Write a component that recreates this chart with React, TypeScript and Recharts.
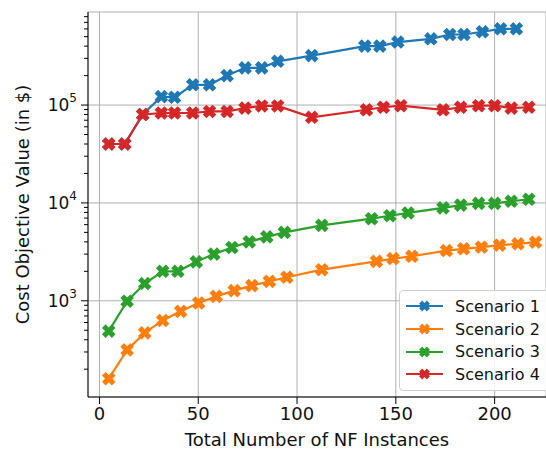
import { LineChart, Line, XAxis, YAxis, CartesianGrid, Legend, Label } from 'recharts';

const xTicks = [0, 50, 100, 150, 200];
const yMajor = [1e3, 1e4, 1e5];
const yTicks = [
  200, 300, 400, 500, 600, 700, 800, 900,
  1e3, 2e3, 3e3, 4e3, 5e3, 6e3, 7e3, 8e3, 9e3,
  1e4, 2e4, 3e4, 4e4, 5e4, 6e4, 7e4, 8e4, 9e4,
  1e5, 2e5, 3e5, 4e5, 5e5, 6e5, 7e5, 8e5,
];

const s1X = [4.7, 12.8, 21.9, 31.3, 38, 47.2, 55.7, 64.6, 73.7, 82.1, 90.2, 107.4, 134.3, 141.9, 151, 167.7, 177.3, 184.5, 193.8, 203, 211];
const s1Y = [40000, 40000, 80000, 122000, 120000, 161000, 161000, 200000, 240000, 240000, 280000, 320000, 400000, 400000, 440000, 475000, 526000, 526000, 561000, 601000, 601000];

const s2X = [4.7, 14, 22.9, 32, 41.1, 50.2, 59.1, 68.2, 77.1, 86, 94.8, 112.5, 140.2, 148.6, 158.1, 175.6, 184.3, 193.3, 202.5, 211.8, 220.7];
const s2Y = [160, 315, 470, 630, 780, 950, 1110, 1270, 1430, 1580, 1740, 2080, 2530, 2700, 2850, 3260, 3400, 3530, 3700, 3820, 3970];

const s3X = [4.7, 14, 22.9, 32, 39.7, 49, 57.9, 67, 75.8, 84.7, 93.6, 112.5, 137.7, 147, 156.2, 173.9, 182.8, 191.9, 200, 208.4, 217.3];
const s3Y = [490, 990, 1500, 2000, 2000, 2500, 3000, 3500, 4000, 4500, 5000, 5900, 6900, 7400, 7900, 8900, 9500, 9900, 9900, 10400, 10900];

const s4X = [4.7, 12.8, 21.9, 31.3, 38, 47.2, 55.7, 64.6, 73.7, 82.1, 90.2, 107.4, 135.1, 143.7, 152.5, 173.9, 182.8, 191.9, 200, 208.4, 217.3];
const s4Y = [40000, 40000, 80000, 83000, 83000, 83000, 86000, 86000, 93000, 98000, 98000, 75000, 89500, 95000, 98500, 89500, 95000, 98500, 98500, 93000, 95000];

const series = [
  { name: 'Scenario 1', color: '#1f77b4', xs: s1X, ys: s1Y },
  { name: 'Scenario 2', color: '#ff7f0e', xs: s2X, ys: s2Y },
  { name: 'Scenario 3', color: '#2ca02c', xs: s3X, ys: s3Y },
  { name: 'Scenario 4', color: '#d62728', xs: s4X, ys: s4Y },
];

const FONT = 'DejaVu Sans, sans-serif';
const Y_DOMAIN = [104, 893000];
const X_DOMAIN = [-5.8, 226];

// filled "X" marker like matplotlib's
function xPath(cx: number, cy: number, r: number, w: number) {
  const pts = [
    [w, w], [w, r], [-w, r], [-w, w], [-r, w], [-r, -w],
    [-w, -w], [-w, -r], [w, -r], [w, -w], [r, -w], [r, w],
  ];
  const c = Math.SQRT1_2;
  return pts
    .map(([px, py], i) => {
      const x = cx + (px - py) * c;
      const y = cy + (px + py) * c;
      return `${i === 0 ? 'M' : 'L'}${x.toFixed(2)},${y.toFixed(2)}`;
    })
    .join(' ') + ' Z';
}

function XDot(props: any) {
  const { cx, cy, index, color } = props;
  if (cx == null || cy == null) return <g key={index} />;
  return <path key={index} d={xPath(cx, cy, 7, 2.6)} fill={color} />;
}

function LogTick(props: any) {
  const { x, y, payload } = props;
  const v = payload.value;
  const lg = Math.log10(v);
  const exp = Math.round(lg);
  const major = Math.abs(lg - exp) < 1e-6;
  return (
    <g>
      <line x1={x - (major ? 7 : 4)} x2={x} y1={y} y2={y} stroke="#000" strokeWidth={1} />
      {major && (
        <text x={x - 11} y={y + 6} textAnchor="end" fontFamily={FONT} fontSize={17} fill="#111">
          10<tspan dy={-9} fontSize={12}>{exp}</tspan>
        </text>
      )}
    </g>
  );
}

function LegendBox() {
  return (
    <div
      style={{
        border: '1px solid #cfcfcf',
        borderRadius: 4,
        background: 'rgba(255,255,255,0.85)',
        padding: '4px 0 4px 6px',
        fontFamily: FONT,
        fontSize: 16,
        color: '#111',
        width: 160,
        boxSizing: 'border-box',
      }}
    >
      {series.map((s) => (
        <div key={s.name} style={{ display: 'flex', alignItems: 'center', height: 22.7 }}>
          <svg width={38} height={16} style={{ marginRight: 11 }}>
            <line x1={0} x2={37} y1={8} y2={8} stroke={s.color} strokeWidth={2} />
            <path d={xPath(18.5, 8, 5.5, 2.2)} fill={s.color} />
          </svg>
          <span>{s.name}</span>
        </div>
      ))}
    </div>
  );
}

export default function App() {
  return (
    <div style={{ position: 'absolute', left: 0, top: 0, width: 546, height: 452, overflow: 'hidden', background: '#fff' }}>
      <LineChart width={546} height={452} margin={{ top: 12, right: 0, bottom: 0, left: 0 }}>
        <CartesianGrid stroke="#b0b0b0" strokeWidth={1} yAxisId="grid" />
        <XAxis
          type="number"
          dataKey="x"
          domain={X_DOMAIN}
          allowDataOverflow
          ticks={xTicks}
          height={55}
          tickSize={7}
          tickMargin={3}
          stroke="#000"
          tick={{ fontFamily: FONT, fontSize: 18, fill: '#111' }}
        >
          <Label value="Total Number of NF Instances" position="insideBottom" offset={6} style={{ fontFamily: FONT, fontSize: 18, fill: '#111' }} />
        </XAxis>
        <XAxis xAxisId="top" orientation="top" type="number" dataKey="x" domain={X_DOMAIN} allowDataOverflow tick={false} tickLine={false} height={0} stroke="#000" />
        <YAxis
          type="number"
          scale="log"
          domain={Y_DOMAIN}
          allowDataOverflow
          ticks={yTicks}
          interval={0}
          width={88}
          tickSize={0}
          tickMargin={0}
          stroke="#000"
          tick={<LogTick />}
        >
          <Label
            value="Cost Objective Value (in $)"
            angle={-90}
            position="insideLeft"
            offset={23}
            style={{ textAnchor: 'middle', fontFamily: FONT, fontSize: 18, fill: '#111' }}
          />
        </YAxis>
        <YAxis yAxisId="grid" hide type="number" scale="log" domain={Y_DOMAIN} allowDataOverflow ticks={yMajor} interval={0} />
        <Legend
          layout="horizontal"
          verticalAlign="middle"
          align="center"
          content={<LegendBox />}
          wrapperStyle={{ left: 399, top: 290, width: 160, height: 'auto' }}
        />
        {series.map((s) => (
          <Line
            key={s.name}
            name={s.name}
            data={s.xs.map((x, i) => ({ x, y: s.ys[i] }))}
            dataKey="y"
            type="linear"
            stroke={s.color}
            strokeWidth={2.2}
            dot={(p: any) => <XDot key={p.index} {...p} color={s.color} />}
            activeDot={false}
            isAnimationActive={false}
          />
        ))}
      </LineChart>
    </div>
  );
}
